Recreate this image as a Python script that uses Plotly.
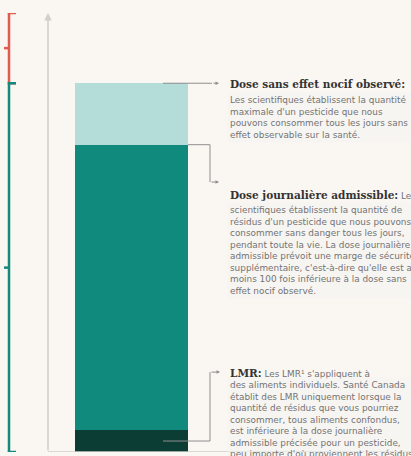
import plotly.graph_objects as go

# ---- data (levels on an arbitrary 0-100 scale) ----
axis_max = 100
lmr_level = 5          # Limite maximale de résidus
dja_level = 70         # Dose journalière admissible
dsena_level = 84       # Dose sans effet nocif observé

segment_names = ["LMR", "Dose journalière admissible", "Dose sans effet nocif observé"]
segment_tops = [lmr_level, dja_level, dsena_level]
segment_colors = ["#0c3d35", "#0f8a7d", "#b4ddd9"]

title1 = "Dose sans effet nocif observé:"
body1_first = ""
body1 = ["Les scientifiques établissent la quantité",
         "maximale d'un pesticide que nous",
         "pouvons consommer tous les jours sans",
         "effet observable sur la santé."]
title2 = "Dose journalière admissible:"
body2_first = " Les"
body2 = ["scientifiques établissent la quantité de",
         "résidus d'un pesticide que nous pouvons",
         "consommer sans danger tous les jours,",
         "pendant toute la vie. La dose journalière",
         "admissible prévoit une marge de sécurité",
         "supplémentaire, c'est-à-dire qu'elle est au",
         "moins 100 fois inférieure à la dose sans",
         "effet nocif observé."]
title3 = "LMR:"
body3_first = " Les LMR¹ s'appliquent à"
body3 = ["des aliments individuels. Santé Canada",
         "établit des LMR uniquement lorsque la",
         "quantité de résidus que vous pourriez",
         "consommer, tous aliments confondus,",
         "est inférieure à la dose journalière",
         "admissible précisée pour un pesticide,",
         "peu importe d'où proviennent les résidus."]

# ---- layout constants ----
W, H = 411, 456
BG = "#faf6f2"
BAR_X, BAR_W = 131.5, 113
AXIS_X = 48
BR_X = 9
RED, TEAL = "#e25a50", "#14897d"
GRAY = "#8f8f8f"
TEXT_X = 227
BODY_FONT = dict(family="DejaVu Sans, sans-serif", size=8.9, color="#737373")

fig = go.Figure()
bases = [0] + segment_tops[:-1]
for name, top, base, col in zip(segment_names, segment_tops, bases, segment_colors):
    fig.add_trace(go.Bar(x=[BAR_X], y=[top - base], base=[base], width=BAR_W,
                         marker=dict(color=col, line=dict(width=0)),
                         name=name, showlegend=False, hoverinfo="skip"))

shapes = []
def line(x0, y0, x1, y1, color, width):
    shapes.append(dict(type="line", xref="x", yref="y", x0=x0, y0=y0, x1=x1, y1=y1,
                       line=dict(color=color, width=width), layer="above"))

# left brackets
for lo, hi, col in [(dsena_level, axis_max, RED), (0, dsena_level, TEAL)]:
    line(BR_X, lo, BR_X, hi, col, 2.5)
    line(BR_X - 1.2, hi, BR_X + 7, hi, col, 2.5)
    line(BR_X - 1.2, lo, BR_X + 7, lo, col, 2.5)
    mid = (lo + hi) / 2
    line(BR_X - 5, mid, BR_X, mid, col, 2.5)

# baseline
line(AXIS_X, 0, W, 0, "#d2cdc8", 1.5)

# connectors
line(163, dsena_level, 212, dsena_level, GRAY, 1)
shapes.append(dict(type="path", xref="x", yref="y",
                   path=f"M 188 {dja_level} L 210 {dja_level} L 210 61.5",
                   line=dict(color=GRAY, width=1), layer="above"))
shapes.append(dict(type="path", xref="x", yref="y",
                   path=f"M 163 {lmr_level/2} L 210 {lmr_level/2} L 210 18.2",
                   line=dict(color=GRAY, width=1), layer="above"))

annotations = []
# vertical axis with arrow
annotations.append(dict(x=AXIS_X, y=axis_max, ax=AXIS_X, ay=0, xref="x", yref="y",
                        axref="x", ayref="y", showarrow=True, arrowhead=2, arrowsize=1,
                        arrowwidth=1.5, arrowcolor="#d2cdc8", text=""))
for (x0, y), x1 in [((210, 61.5), 219), ((210, 18.2), 220), ((212, dsena_level), 219)]:
    annotations.append(dict(x=x1, y=y, ax=x0, ay=y, xref="x", yref="y", axref="x", ayref="y",
                            showarrow=True, arrowhead=2, arrowsize=0.7, arrowwidth=1,
                            arrowcolor=GRAY, text=""))

TSTYLE = "font-family:'DejaVu Serif', serif;font-size:10.5px;font-weight:bold;color:#333333"
def block(title, first, lines, y_title, y_body_top):
    annotations.append(dict(x=TEXT_X, y=y_title, xref="x", yref="y", xanchor="left",
                            yanchor="middle", align="left", showarrow=False,
                            text=f"<span style=\"{TSTYLE}\">{title}</span>{first}",
                            font=BODY_FONT, borderpad=2))
    annotations.append(dict(x=TEXT_X, y=y_body_top, xref="x", yref="y", xanchor="left",
                            yanchor="top", align="left", showarrow=False,
                            text="<br>".join(lines), font=BODY_FONT,
                            bgcolor="rgba(244,244,242,0.55)", borderpad=2))

block(title1, body1_first, body1, 83.8, 81.9)
block(title2, body2_first, body2, 58.5, 56.9)
block(title3, body3_first, body3, 18.0, 17.0)

fig.update_layout(
    width=W, height=H, autosize=False,
    margin=dict(l=0, r=0, t=13, b=4, pad=0),
    paper_bgcolor=BG, plot_bgcolor=BG,
    barmode="overlay", bargap=0,
    shapes=shapes, annotations=annotations,
    xaxis=dict(range=[0, W], visible=False, fixedrange=True),
    yaxis=dict(range=[0, axis_max], visible=False, fixedrange=True),
    showlegend=False,
)
fig.write_html("out.html", config={"displayModeBar": False},
               post_script="document.body.style.margin='0';document.body.style.background='#faf6f2';")
